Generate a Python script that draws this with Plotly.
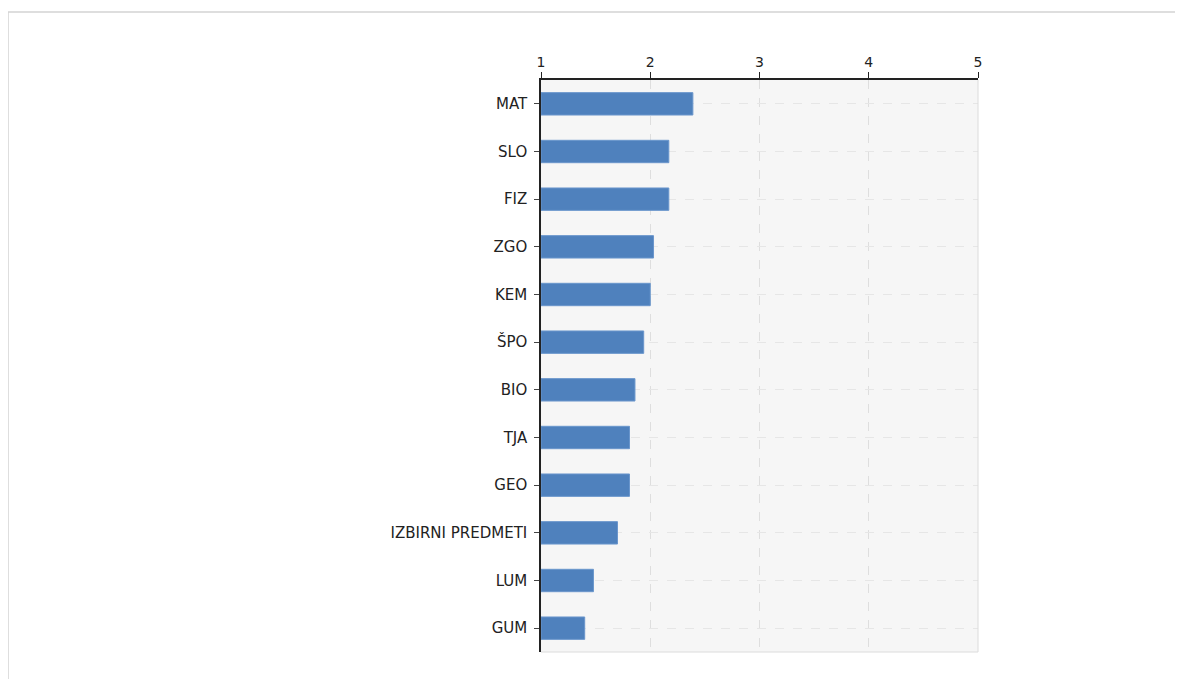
import plotly.graph_objects as go

subjects = ["MAT", "SLO", "FIZ", "ZGO", "KEM", "ŠPO", "BIO", "TJA", "GEO",
            "IZBIRNI PREDMETI", "LUM", "GUM"]
values = [2.39, 2.17, 2.17, 2.03, 2.00, 1.94, 1.86, 1.81, 1.81, 1.70, 1.48, 1.40]
x_ticks = [1, 2, 3, 4, 5]

fig = go.Figure()
fig.add_trace(go.Bar(
    y=subjects, x=[v - 1 for v in values], base=1, orientation="h",
    marker=dict(color="#4f81bd", line=dict(color="#6a96cc", width=1)),
    width=0.47, hoverinfo="skip",
))

OFF = 7  # page offset of the figure in the browser
W, H = 1183 - OFF, 679 - OFF
L, T = 540 - OFF, 79 - OFF
R = W - (977 - OFF)
B = H - (651 - OFF)
pw, ph = W - L - R, H - T - B

fig.update_layout(
    width=W, height=H,
    margin=dict(l=L, r=R, t=T, b=B),
    paper_bgcolor="white", plot_bgcolor="#f6f6f6",
    showlegend=False,
    font=dict(family="Verdana, DejaVu Sans, sans-serif", size=15, color="#222"),
    xaxis=dict(side="top", range=[1, 5], tickvals=x_ticks, ticks="outside",
               ticklen=6, tickcolor="#222", showline=True, linecolor="#222",
               linewidth=1.5, showgrid=True, gridcolor="#dedede", griddash="dash",
               zeroline=False, mirror=False, tickfont=dict(size=14)),
    yaxis=dict(categoryorder="array", categoryarray=subjects, autorange="reversed",
               ticks="outside", ticklen=5, tickcolor="#444", showline=True,
               linecolor="#222", linewidth=1.5, showgrid=True, gridcolor="#e6e6e6",
               griddash="dash", zeroline=False, ticklabelstandoff=4),
    shapes=[
        dict(type="line", xref="paper", yref="paper", x0=1, x1=1, y0=0, y1=1,
             line=dict(color="#dcdcdc", width=1)),
        dict(type="line", xref="paper", yref="paper", x0=0, x1=1, y0=0, y1=0,
             line=dict(color="#dcdcdc", width=1)),
        dict(type="rect", xref="paper", yref="paper",
             x0=(7 - 540) / pw, x1=(1200 - 540) / pw,
             y0=-(700 - 651) / ph, y1=1 + (79 - 11) / ph,
             line=dict(color="#d4d4d4", width=1.5), fillcolor="rgba(0,0,0,0)",
             layer="below"),
    ],
)

fig.write_html("out.html")
